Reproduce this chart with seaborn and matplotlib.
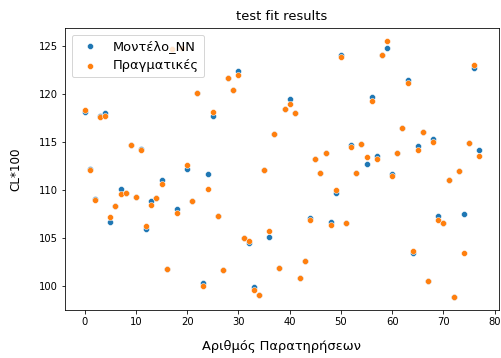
import matplotlib
matplotlib.use("Agg")
import matplotlib.pyplot as plt
import seaborn as sns
import numpy as np
import pandas as pd

# observation index
obs = list(range(78))

# model predictions (blue)
model_nn = [118.1, 112.1, 109.0, 117.7, 118.0, 106.6, 108.3, 110.1, 109.7, 114.6,
            109.2, 114.2, 105.9, 108.8, 109.1, 111.0, 101.7, 124.6, 108.0, 124.8,
            112.2, 108.85, 120.1, 100.3, 111.6, 117.7, 107.3, 101.6, 121.6, 120.4,
            122.4, 105.0, 104.4, 99.9, 99.0, 112.0, 105.1, 115.8, 101.8, 118.4,
            119.45, 118.0, 100.8, 102.6, 107.05, 113.2, 111.7, 113.8, 106.6, 109.6,
            124.05, 106.5, 114.7, 111.7, 114.8, 112.7, 119.7, 113.5, 124.0, 124.8,
            111.6, 113.8, 116.4, 121.4, 103.4, 114.5, 116.0, 100.5, 115.3, 107.3,
            106.5, 111.0, 98.8, 111.9, 107.5, 114.9, 122.7, 114.1]

# actual values (orange)
actual = [118.3, 112.0, 108.9, 117.6, 117.7, 107.2, 108.3, 109.5, 109.6, 114.6,
          109.2, 114.1, 106.2, 108.4, 109.1, 110.6, 101.7, 124.6, 107.6, 124.8,
          112.6, 108.85, 120.1, 100.0, 110.1, 118.1, 107.3, 101.6, 121.6, 120.4,
          121.9, 105.0, 104.6, 99.6, 99.0, 112.0, 105.65, 115.8, 101.8, 118.4,
          118.96, 118.0, 100.8, 102.6, 106.8, 113.2, 111.7, 113.8, 106.3, 110.0,
          123.8, 106.5, 114.45, 111.7, 114.8, 113.4, 119.2, 113.2, 124.0, 125.5,
          111.4, 113.8, 116.4, 121.1, 103.6, 114.1, 116.0, 100.5, 115.0, 106.8,
          106.5, 111.0, 98.8, 111.9, 103.4, 114.9, 123.0, 113.5]

label_model = "Μοντέλο_NN"
label_actual = "Πραγματικές"

W, H, DPI = 501, 358, 72
fig = plt.figure(figsize=(W / DPI, H / DPI), dpi=DPI)
ax = fig.add_axes([65 / W, 1 - 310 / H, (499 - 65) / W, (310 - 28) / H])

sns.scatterplot(x=obs, y=model_nn, ax=ax, color="#1f77b4", label=label_model)
sns.scatterplot(x=obs, y=actual, ax=ax, color="#ff7f0e", label=label_actual)

ax.set_title("test fit results", fontsize=13, pad=8)
ax.set_xlabel("Αριθμός Παρατηρήσεων", fontsize=13, labelpad=13)
ax.set_ylabel("CL*100", fontsize=12, labelpad=17)
ax.set_xticks([0, 10, 20, 30, 40, 50, 60, 70, 80])
ax.tick_params(labelsize=10)
ax.legend(loc="upper left", fontsize=13)

fig.savefig("out.png", dpi=DPI)
